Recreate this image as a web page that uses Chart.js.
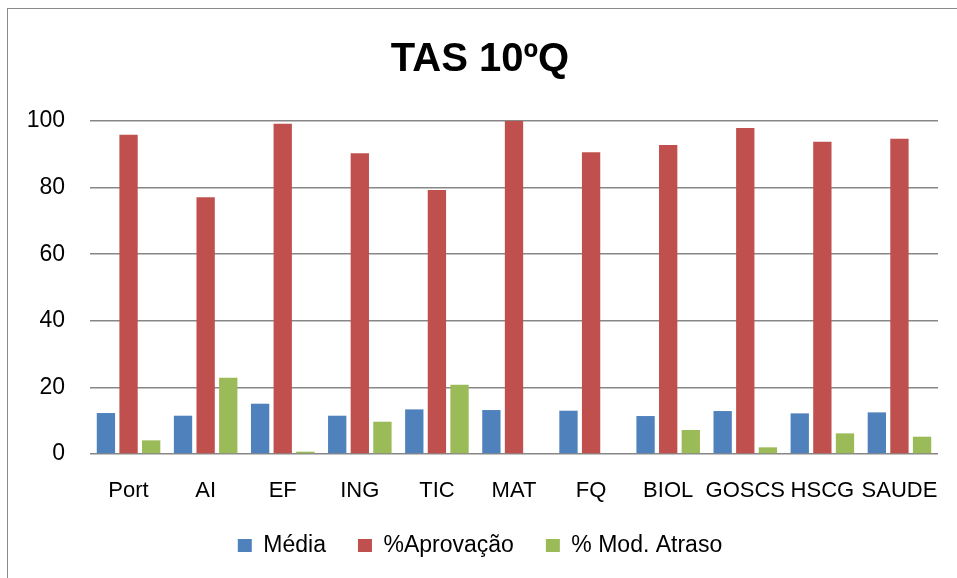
<!DOCTYPE html>
<html lang="pt">
<head>
<meta charset="utf-8">
<title>TAS 10ºQ</title>
<script src="https://cdn.jsdelivr.net/npm/chart.js@4.4.1/dist/chart.umd.min.js"></script>
<style>
    html, body { margin: 0; padding: 0; background: #ffffff; overflow: hidden; }
    #wrapper { position: absolute; left: 0; top: 0; width: 957px; height: 578px; }
    #moldura { position: absolute; left: 7px; top: 8px; width: 1000px; height: 1000px;
               border-left: 1.5px solid #8a8a8a; border-top: 1.5px solid #8a8a8a; pointer-events: none; }
</style>
</head>
<body>
<div id="wrapper">
    <div id="moldura"></div>
    <canvas id="grafico" width="957" height="578"></canvas>
</div>
<script>
"use strict"

// disciplinas
const disciplinas = ["Port", "AI", "EF", "ING", "TIC", "MAT", "FQ", "BIOL", "GOSCS", "HSCG", "SAUDE"];

// valores
const media = [12.3, 11.5, 15.1, 11.5, 13.4, 13.2, 13.0, 11.4, 12.9, 12.2, 12.5];
const aprovacao = [95.9, 77.1, 99.2, 90.3, 79.3, 100, 90.6, 92.8, 97.9, 93.8, 94.7];
const atraso = [4.1, 22.9, 0.7, 9.7, 20.8, 0, 0, 7.2, 2.0, 6.2, 5.2];

const nomesSeries = ["Média", "%Aprovação", "% Mod. Atraso"];
const cores = ["#4f81bd", "#c0504d", "#9bbb59"];

// eixo y: 0..100 de 20 em 20
const yMin = 0;
const yMax = 100;
const yPasso = 20;

const fonte = "'Liberation Sans', Arial, sans-serif";

let chartOptions = {
    type: "bar",
    data: {
        labels: disciplinas,
        datasets: [media, aprovacao, atraso].map((valores, i) => ({
            label: nomesSeries[i],
            data: valores,
            backgroundColor: cores[i],
            borderWidth: 0,
            categoryPercentage: 0.88,
            barPercentage: 0.81
        }))
    },
    options: {
        responsive: false,
        animation: false,
        layout: {
            // o "100" fica dentro da caixa do eixo (as etiquetas são cortadas fora dela)
            padding: { left: 22, right: 19, top: 0, bottom: 11 }
        },
        plugins: {
            tooltip: { enabled: false },
            title: {
                display: true,
                text: "TAS 10ºQ",
                color: "#000000",
                font: { family: fonte, size: 40, weight: "bold", lineHeight: 1.2 },
                padding: { top: 36, bottom: 37 }
            },
            legend: {
                position: "bottom",
                labels: {
                    color: "#000000",
                    font: { family: fonte, size: 23 },
                    boxWidth: 14,
                    boxHeight: 13,
                    padding: 32
                }
            }
        },
        scales: {
            x: {
                grid: { display: false },
                border: { display: false },
                ticks: {
                    color: "#000000",
                    font: { family: fonte, size: 22 },
                    padding: 16,
                    maxRotation: 0,
                    autoSkip: false
                },
                afterFit: function (scale) { scale.height = 48; }
            },
            y: {
                min: yMin,
                max: yMax,
                grid: { color: "#878787", lineWidth: 1.5, drawTicks: false },
                border: { display: false },
                ticks: {
                    stepSize: yPasso,
                    color: "#000000",
                    font: { family: fonte, size: 23 },
                    padding: 25
                },
                afterFit: function (scale) { scale.width = 68; }
            }
        }
    }
};

let grafico = new Chart(document.getElementById("grafico"), chartOptions);
</script>
</body>
</html>
